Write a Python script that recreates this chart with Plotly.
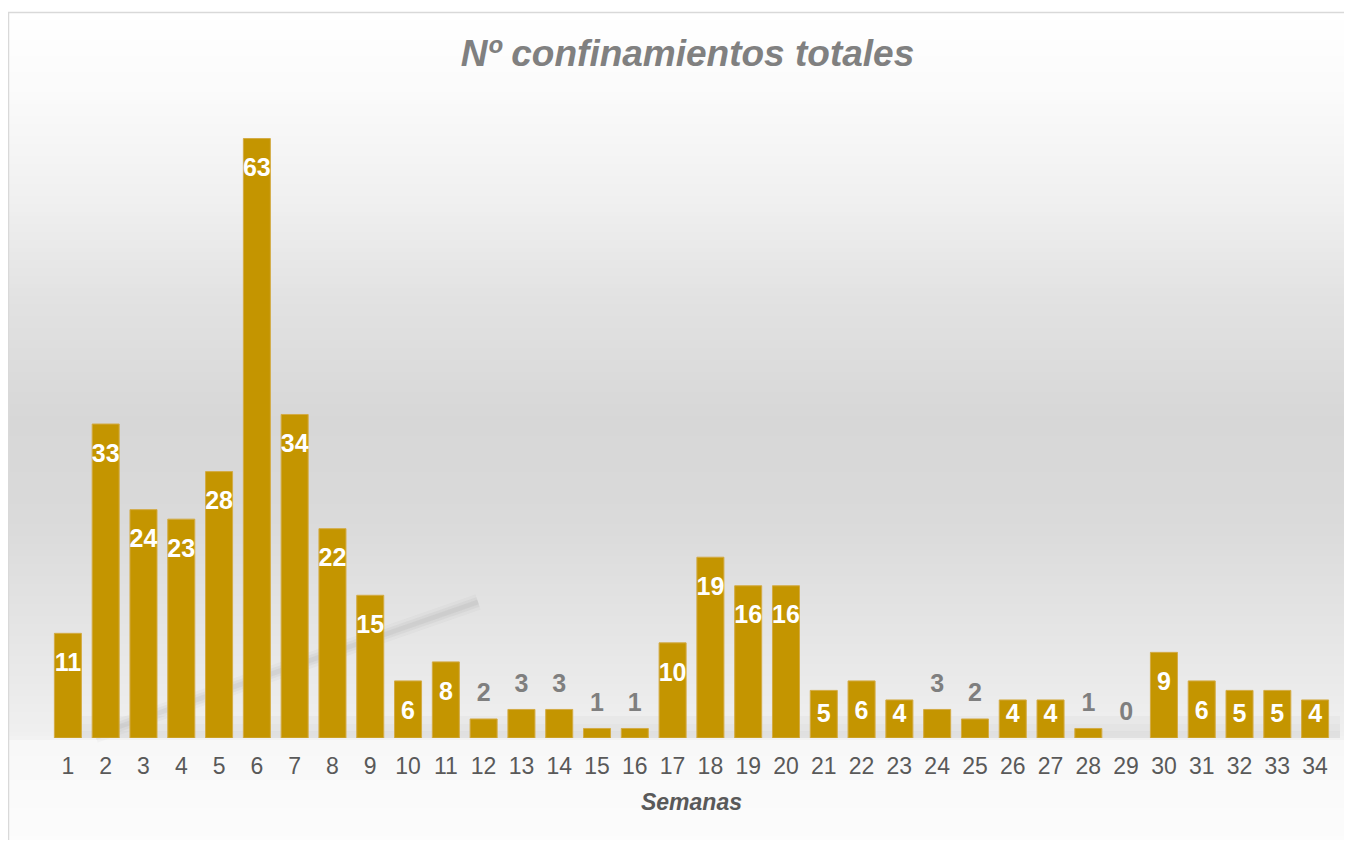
import numpy as np
import plotly.graph_objects as go

# ---- data ----
semanas = [str(i) for i in range(1, 35)]
confinamientos = [11, 33, 24, 23, 28, 63, 34, 22, 15, 6, 8, 2, 3, 3, 1, 1, 10,
                  19, 16, 16, 5, 6, 4, 3, 2, 4, 4, 1, 0, 9, 6, 5, 5, 4]
titulo = "Nº confinamientos totales"
titulo_x = "Semanas"

# ---- layout geometry (pixels, page has an 8px body margin) ----
OFF = 8
W, H = 1352 - 2 * OFF, 848 - 2 * OFF
L = 49 - OFF
R = W - (1334 - OFF)
T = 110 - OFF
B = H - (738 - OFF)
PW, PH = W - L - R, H - T - B
YMAX = 66
FONT = "Arial, Liberation Sans, sans-serif"


def px_x(x):  # reference screenshot pixel -> paper
    return (x - OFF - L) / PW


def px_y(y):
    return (H - B - (y - OFF)) / PH


shapes = []
# gradient background bands
stops_y = [12, 100, 200, 300, 420, 520, 620, 700, 737, 741, 848]
stops_g = [255, 250, 240, 226, 215, 218, 228, 236, 240, 248, 252]
step = 4
for y0 in range(12, 848, step):
    y1 = min(y0 + step, 848)
    g = int(round(np.interp((y0 + y1) / 2, stops_y, stops_g)))
    shapes.append(dict(type="rect", xref="paper", yref="paper",
                       x0=px_x(8), x1=px_x(1356), y0=px_y(y1), y1=px_y(y0),
                       fillcolor=f"rgb({g},{g},{g})", line=dict(width=0),
                       layer="below"))
# shadow near bar bases
for ya, yb, a in [(716, 724, 0.025), (724, 731, 0.045), (731, 738, 0.065)]:
    shapes.append(dict(type="rect", xref="paper", yref="paper",
                       x0=px_x(55), x1=px_x(1340), y0=px_y(yb), y1=px_y(ya),
                       fillcolor=f"rgba(0,0,0,{a})", line=dict(width=0),
                       layer="below"))
# diagonal reflection streak (soft)
for wdt, a in [(16, 0.04), (10, 0.06), (5, 0.07)]:
    shapes.append(dict(type="line", xref="paper", yref="paper",
                       x0=px_x(95), y0=px_y(735), x1=px_x(478), y1=px_y(602),
                       line=dict(color=f"rgba(100,100,100,{a})", width=wdt),
                       layer="below"))
# border (left & top)
shapes.append(dict(type="line", xref="paper", yref="paper",
                   x0=px_x(8.5), x1=px_x(8.5), y0=px_y(12), y1=px_y(860),
                   line=dict(color="#d9d9d9", width=1.5), layer="above"))
shapes.append(dict(type="line", xref="paper", yref="paper",
                   x0=px_x(8), x1=px_x(1360), y0=px_y(12.5), y1=px_y(12.5),
                   line=dict(color="#d9d9d9", width=1.5), layer="above"))

# ---- label positions derived from values ----
inside = [v >= 4 for v in confinamientos]
lab_y = [max(v - 3.3, 2.3) if ins else v + 2.5 for v, ins in zip(confinamientos, inside)]
lab_col = ["#ffffff" if ins else "#7f7f7f" for ins in inside]

fig = go.Figure()
fig.add_trace(go.Bar(
    x=semanas, y=confinamientos,
    marker=dict(color="#c49500",
                line=dict(color="#d3ab45",
                          width=[0 if v == 0 else 1 for v in confinamientos])),
    hoverinfo="x+y", showlegend=False,
))
fig.add_trace(go.Scatter(
    x=semanas, y=lab_y, mode="text",
    text=[str(v) for v in confinamientos],
    textposition="middle center",
    textfont=dict(family=FONT, size=25, color=lab_col, weight="bold"),
    hoverinfo="skip", showlegend=False, cliponaxis=False,
))

fig.update_layout(
    width=W, height=H,
    margin=dict(l=L, r=R, t=T, b=B),
    paper_bgcolor="white", plot_bgcolor="rgba(0,0,0,0)",
    bargap=0.285,
    shapes=shapes,
    title=dict(text=f"<b><i>{titulo}</i></b>", x=(687.5 - OFF) / W,
               xanchor="center", y=1 - (53 - OFF) / H, yanchor="middle",
               font=dict(family=FONT, size=37, color="#808080")),
    xaxis=dict(type="category", range=[-0.5, len(semanas) - 0.5],
               showgrid=False, zeroline=False, showline=False,
               ticks="", ticklabelstandoff=12,
               tickfont=dict(family=FONT, size=23, color="#595959"),
               title=dict(text=f"<b><i>{titulo_x}</i></b>", standoff=15,
                          font=dict(family=FONT, size=23, color="#595959"))),
    yaxis=dict(range=[0, YMAX], visible=False, showgrid=False, zeroline=False),
)

fig.write_html("out.html")
